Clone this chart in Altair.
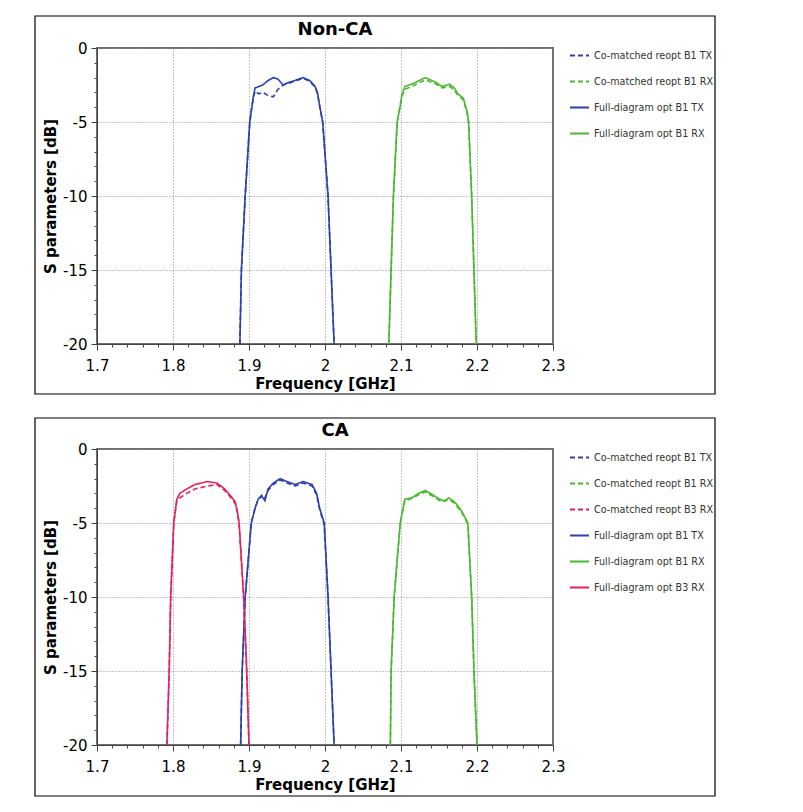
import altair as alt
import pandas as pd

# ---- Non-CA panel: B1 TX band ----
NONCA_TX_FREQ = [1.888, 1.890, 1.895, 1.901, 1.904, 1.906, 1.908, 1.913, 1.918, 1.925, 1.932, 1.938,
                 1.945, 1.951, 1.960, 1.971, 1.980, 1.987, 1.990, 1.993, 1.997, 2.004, 2.008, 2.012]
NONCA_TX_FULL = [-20, -15, -10, -5.0, -3.9, -3.2, -2.7, -2.6, -2.5, -2.2, -2.0, -2.1,
                 -2.5, -2.35, -2.2, -2.0, -2.2, -2.6, -3.0, -3.9, -5.0, -10, -15, -20]
NONCA_TX_CO = [-20, -15, -10, -5.0, -3.9, -3.3, -2.9, -3.1, -3.0, -3.2, -3.3, -2.8,
               -2.5, -2.4, -2.25, -2.05, -2.25, -2.65, -3.05, -3.95, -5.05, -10, -15, -20]

# ---- Non-CA panel: B1 RX band ----
NONCA_RX_FREQ = [2.084, 2.087, 2.090, 2.095, 2.099, 2.101, 2.105, 2.116, 2.124, 2.132, 2.145,
                 2.154, 2.164, 2.170, 2.175, 2.182, 2.187, 2.189, 2.193, 2.196, 2.199]
NONCA_RX_FULL = [-20, -15, -10, -5.0, -3.9, -3.2, -2.6, -2.4, -2.2, -2.0, -2.3,
                 -2.6, -2.45, -2.7, -3.1, -3.4, -4.3, -5.0, -10, -15, -20]
NONCA_RX_CO = [-20, -15, -10, -5.0, -3.9, -3.3, -2.8, -2.55, -2.35, -2.15, -2.4,
               -2.7, -2.6, -2.85, -3.2, -3.5, -4.4, -5.1, -10, -15, -20]

# ---- CA panel: B3 RX band ----
CA_B3RX_FREQ = [1.792, 1.795, 1.797, 1.801, 1.805, 1.809, 1.818, 1.829, 1.845,
                1.858, 1.868, 1.878, 1.882, 1.885, 1.887, 1.893, 1.897, 1.900]
CA_B3RX_FULL = [-20, -15, -10, -5.0, -3.4, -3.0, -2.7, -2.4, -2.2,
                -2.3, -2.7, -3.3, -3.6, -4.3, -5.0, -10, -15, -20]
CA_B3RX_CO = [-20, -15, -10, -5.0, -3.5, -3.3, -3.0, -2.7, -2.5,
              -2.4, -2.8, -3.4, -3.7, -4.4, -5.1, -10, -15, -20]

# ---- CA panel: B1 TX band ----
CA_TX_FREQ = [1.889, 1.891, 1.895, 1.903, 1.908, 1.912, 1.917, 1.921, 1.925, 1.932, 1.941,
              1.950, 1.961, 1.971, 1.983, 1.989, 1.993, 1.999, 2.004, 2.008, 2.012]
CA_TX_FULL = [-20, -15, -10, -5.0, -4.0, -3.4, -3.2, -3.5, -2.7, -2.3, -2.0,
              -2.2, -2.4, -2.2, -2.4, -3.0, -4.0, -5.0, -10, -15, -20]
CA_TX_CO = [-20, -15, -10, -5.0, -4.0, -3.4, -3.1, -3.3, -2.8, -2.4, -2.1,
            -2.3, -2.5, -2.3, -2.5, -3.1, -4.1, -5.1, -10, -15, -20]

# ---- CA panel: B1 RX band ----
CA_RX_FREQ = [2.086, 2.087, 2.091, 2.099, 2.105, 2.114, 2.123, 2.132, 2.142,
              2.151, 2.157, 2.163, 2.171, 2.180, 2.188, 2.193, 2.196, 2.200]
CA_RX_FULL = [-20, -15, -10, -5.0, -3.4, -3.3, -3.0, -2.8, -3.1,
              -3.4, -3.5, -3.3, -3.6, -4.2, -5.0, -10, -15, -20]
CA_RX_CO = [-20, -15, -10, -5.0, -3.5, -3.35, -3.1, -2.9, -3.2,
            -3.5, -3.55, -3.4, -3.7, -4.3, -5.1, -10, -15, -20]

X_TICKS = [round(1.7 + 0.02 * i, 2) for i in range(31)]
Y_TICKS = list(range(-20, 1))

BLUE = "#2f3fae"
GREEN = "#4db733"
RED = "#e0245e"
DASHED = [5, 3]
SOLID = [1, 0]

FONT = "DejaVu Sans"

x_major_test = "abs(datum.value * 10 - round(datum.value * 10)) < 0.001"
y_major_test = "abs(datum.value % 5) < 0.001"

x_axis = alt.Axis(
    values=X_TICKS,
    labelExpr=f"{x_major_test} ? '' + datum.value : ''",
    labelFlush=False,
    tickSize={"condition": {"test": x_major_test, "value": 6}, "value": 3},
    gridOpacity={"condition": {"test": x_major_test, "value": 1}, "value": 0},
    title="Frequency [GHz]",
    labelPadding=8,
    titlePadding=3,
)
y_axis = alt.Axis(
    values=Y_TICKS,
    labelExpr=f"{y_major_test} ? '' + datum.value : ''",
    labelFlush=False,
    tickSize={"condition": {"test": y_major_test, "value": 6}, "value": 3},
    gridOpacity={"condition": {"test": y_major_test, "value": 1}, "value": 0},
    title="S parameters [dB]",
    labelPadding=4,
    titlePadding=4,
)


def make_panel(title, series, legend_y, box_top, box_bottom):
    rows = []
    for name, freqs, dbs, color, dash in series:
        for i, (f, d) in enumerate(zip(freqs, dbs)):
            rows.append({"series": name, "freq": f, "db": d, "idx": i})
    df = pd.DataFrame(rows)

    names = [s[0] for s in series]
    colors = [s[3] for s in series]
    dashes = [s[4] for s in series]

    legend = alt.Legend(
        title=None, orient="none", legendX=472, legendY=legend_y,
        symbolType="stroke", symbolSize=361, symbolStrokeWidth=2,
        labelFont=FONT, labelFontSize=9.6, labelColor="#333",
        rowPadding=10, labelOffset=4, padding=0,
    )

    lines = alt.Chart(df).mark_line(strokeWidth=1.6, clip=True).encode(
        x=alt.X("freq:Q", scale=alt.Scale(domain=[1.7, 2.3], nice=False, zero=False), axis=x_axis),
        y=alt.Y("db:Q", scale=alt.Scale(domain=[-20, 0], nice=False), axis=y_axis),
        color=alt.Color("series:N", scale=alt.Scale(domain=names, range=colors), legend=legend),
        strokeDash=alt.StrokeDash("series:N", scale=alt.Scale(domain=names, range=dashes), legend=legend),
        order="idx:Q",
    )

    one = pd.DataFrame({"k": [0]})

    # outer box around the whole panel
    frame = alt.Chart(one).mark_rect(
        filled=False, stroke="black", strokeWidth=1.2, clip=False
    ).encode(
        x=alt.value(-62), x2=alt.value(618), y=alt.value(box_top), y2=alt.value(box_bottom)
    )

    heading = alt.Chart(one).mark_text(
        font=FONT, fontSize=18, fontWeight="bold", color="black",
        align="center", baseline="middle", clip=False,
    ).encode(
        text=alt.value(title), x=alt.value(238), y=alt.value(-18)
    )

    return alt.layer(frame, heading, lines).properties(width=456, height=296)


nonca = make_panel("Non-CA", [
    ("Co-matched reopt B1 TX", NONCA_TX_FREQ, NONCA_TX_CO, BLUE, DASHED),
    ("Co-matched reopt B1 RX", NONCA_RX_FREQ, NONCA_RX_CO, GREEN, DASHED),
    ("Full-diagram opt B1 TX", NONCA_TX_FREQ, NONCA_TX_FULL, BLUE, SOLID),
    ("Full-diagram opt B1 RX", NONCA_RX_FREQ, NONCA_RX_FULL, GREEN, SOLID),
], legend_y=-3, box_top=-32, box_bottom=346)

ca = make_panel("CA", [
    ("Co-matched reopt B1 TX", CA_TX_FREQ, CA_TX_CO, BLUE, DASHED),
    ("Co-matched reopt B1 RX", CA_RX_FREQ, CA_RX_CO, GREEN, DASHED),
    ("Co-matched reopt B3 RX", CA_B3RX_FREQ, CA_B3RX_CO, RED, DASHED),
    ("Full-diagram opt B1 TX", CA_TX_FREQ, CA_TX_FULL, BLUE, SOLID),
    ("Full-diagram opt B1 RX", CA_RX_FREQ, CA_RX_FULL, GREEN, SOLID),
    ("Full-diagram opt B3 RX", CA_B3RX_FREQ, CA_B3RX_FULL, RED, SOLID),
], legend_y=-2, box_top=-31, box_bottom=347)

chart = alt.vconcat(nonca, ca, spacing=20).resolve_scale(
    color="independent", strokeDash="independent"
).resolve_legend(
    color="independent", strokeDash="independent"
).properties(
    padding={"left": 25, "top": 6, "right": 5, "bottom": 5},
    background="white",
).configure_axis(
    labelFont=FONT, labelFontSize=15, labelColor="black",
    titleFont=FONT, titleFontSize=15, titleFontWeight="bold", titleColor="black",
    tickColor="#444", domainColor="#444",
    gridColor="#8a8a8a", gridDash=[1, 2], gridWidth=1,
).configure_view(
    stroke="#6f6f6f", strokeWidth=2,
)

chart.save("out.html", embed_options={"renderer": "svg", "actions": False})
